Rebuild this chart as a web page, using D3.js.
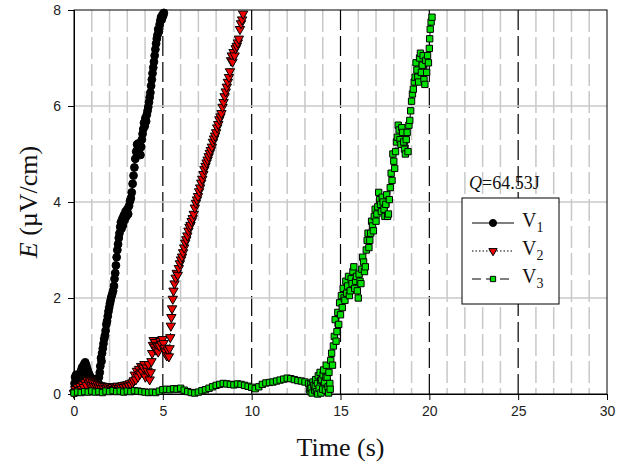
<!DOCTYPE html>
<html>
<head>
<meta charset="utf-8">
<script src="https://cdn.jsdelivr.net/npm/d3@7/dist/d3.min.js"></script>
<style>
  html, body { margin: 0; padding: 0; background: #fff; }
  svg { display: block; }
</style>
</head>
<body>
<svg id="chart" width="625" height="470"></svg>
<script>
// Electric field E (µV/cm) versus time (s) for three voltage channels.
const v1Data = [
  [0.00,0.05],[0.03,0.22],[0.06,0.35],[0.09,0.15],[0.12,0.40],[0.15,0.28],[0.18,0.20],[0.21,0.38],
  [0.24,0.30],[0.27,0.12],[0.30,0.25],[0.33,0.42],[0.36,0.32],[0.39,0.48],[0.42,0.36],[0.45,0.55],
  [0.48,0.40],[0.51,0.58],[0.54,0.45],[0.57,0.62],[0.60,0.50],[0.63,0.66],[0.66,0.55],[0.69,0.60],
  [0.72,0.42],[0.75,0.52],[0.78,0.30],[0.81,0.45],[0.84,0.25],[0.87,0.40],[0.90,0.22],[0.93,0.35],
  [0.96,0.18],[0.99,0.30],[1.02,0.22],[1.05,0.32],[1.08,0.18],[1.12,0.28],[1.16,0.20],[1.20,0.30],
  [1.25,0.22],[1.30,0.28],[1.35,0.24],[1.40,0.35],[1.45,0.45],[1.48,0.58],[1.52,0.75],[1.55,0.68],
  [1.58,0.85],[1.62,0.95],[1.66,1.05],[1.70,1.15],[1.74,1.22],[1.78,1.32],[1.82,1.45],[1.86,1.52],
  [1.90,1.62],[1.94,1.72],[1.98,1.80],[2.02,1.88],[2.06,1.95],[2.10,2.02],[2.15,2.08],[2.20,2.15],
  [2.25,2.25],[2.28,2.40],[2.32,2.52],[2.36,2.68],[2.40,2.85],[2.44,3.00],[2.48,3.12],[2.52,3.25],
  [2.56,3.35],[2.60,3.48],[2.64,3.58],[2.68,3.45],[2.72,3.65],[2.76,3.52],[2.80,3.72],[2.85,3.62],
  [2.90,3.80],[2.95,3.70],[3.00,3.85],[3.05,3.75],[3.10,3.92],[3.15,4.02],[3.20,4.08],[3.25,4.20],
  [3.30,4.38],[3.35,4.55],[3.40,4.72],[3.45,4.90],[3.50,5.05],[3.55,5.20],[3.58,5.10],[3.62,5.22],
  [3.66,5.02],[3.70,5.12],[3.74,4.98],[3.78,5.15],[3.82,5.30],[3.86,5.42],[3.90,5.52],[3.94,5.65],
  [3.98,5.58],[4.02,5.75],[4.06,5.68],[4.10,5.82],[4.14,5.90],[4.18,5.98],[4.22,6.08],[4.26,6.18],
  [4.30,6.28],[4.34,6.42],[4.38,6.55],[4.42,6.68],[4.46,6.80],[4.50,6.92],[4.54,7.05],[4.58,7.18],
  [4.62,7.30],[4.66,7.40],[4.70,7.48],[4.74,7.60],[4.78,7.55],[4.82,7.70],[4.86,7.78],[4.90,7.85],
  [4.94,7.80],[4.98,7.90],[5.02,7.88],[5.06,7.94]
];

const v2Data = [
  [0.00,0.02],[0.07,0.10],[0.14,0.05],[0.21,0.14],[0.28,0.08],[0.35,0.16],[0.42,0.10],[0.49,0.20],
  [0.56,0.14],[0.63,0.24],[0.70,0.18],[0.77,0.28],[0.84,0.22],[0.91,0.26],[0.98,0.18],[1.05,0.24],
  [1.12,0.16],[1.19,0.22],[1.26,0.15],[1.33,0.20],[1.40,0.13],[1.47,0.18],[1.54,0.12],[1.61,0.17],
  [1.68,0.11],[1.75,0.16],[1.82,0.12],[1.89,0.15],[1.96,0.11],[2.03,0.16],[2.10,0.12],[2.17,0.14],
  [2.24,0.10],[2.31,0.15],[2.38,0.13],[2.45,0.17],[2.52,0.12],[2.59,0.16],[2.66,0.13],[2.73,0.18],
  [2.80,0.14],[2.87,0.19],[2.94,0.15],[3.01,0.20],[3.08,0.17],[3.15,0.22],[3.22,0.18],[3.29,0.24],
  [3.36,0.28],[3.42,0.40],[3.48,0.30],[3.54,0.48],[3.60,0.36],[3.66,0.52],[3.72,0.42],[3.78,0.58],
  [3.84,0.46],[3.90,0.55],[3.96,0.62],[4.02,0.36],[4.08,0.55],[4.14,0.48],[4.20,0.62],[4.26,0.30],
  [4.32,0.45],[4.36,0.68],[4.40,0.85],[4.44,1.02],[4.48,1.12],[4.52,0.98],[4.56,1.08],[4.62,0.92],
  [4.68,1.02],[4.74,0.88],[4.80,1.00],[4.86,1.10],[4.92,1.04],[4.98,1.14],[5.04,1.06],[5.10,0.96],
  [5.16,0.88],[5.22,0.80],[5.28,0.92],[5.34,0.78],[5.38,0.95],[5.42,1.18],[5.45,1.42],[5.48,1.60],
  [5.52,1.78],[5.56,1.98],[5.60,2.15],[5.66,2.30],[5.72,2.42],[5.78,2.52],[5.84,2.48],[5.90,2.62],
  [5.96,2.72],[6.02,2.80],[6.08,2.86],[6.14,2.95],[6.20,3.05],[6.26,3.15],[6.32,3.22],[6.38,3.30],
  [6.44,3.40],[6.50,3.48],[6.56,3.52],[6.62,3.60],[6.68,3.66],[6.74,3.75],[6.80,3.88],[6.86,3.98],
  [6.92,4.05],[6.98,4.12],[7.04,4.22],[7.10,4.30],[7.16,4.40],[7.22,4.48],[7.28,4.58],[7.34,4.68],
  [7.40,4.75],[7.46,4.82],[7.52,4.88],[7.58,4.95],[7.64,5.02],[7.70,5.08],[7.76,5.15],[7.82,5.25],
  [7.88,5.32],[7.94,5.38],[8.00,5.45],[8.06,5.55],[8.12,5.62],[8.18,5.72],[8.24,5.78],[8.30,5.85],
  [8.36,5.98],[8.42,6.08],[8.48,6.20],[8.54,6.30],[8.60,6.40],[8.66,6.50],[8.72,6.60],[8.78,6.72],
  [8.84,6.95],[8.88,7.05],[8.92,6.92],[8.98,7.12],[9.04,7.05],[9.10,7.20],[9.16,7.25],[9.22,7.32],
  [9.28,7.40],[9.34,7.60],[9.40,7.72],[9.46,7.80],[9.52,7.92]
];

const v3Data = [
  [0.0,0.02],[0.2,0.04],[0.4,0.03],[0.6,0.05],[0.8,0.04],[1.0,0.06],[1.2,0.04],[1.4,0.05],
  [1.6,0.03],[1.8,0.06],[2.0,0.05],[2.2,0.07],[2.4,0.05],[2.6,0.06],[2.8,0.04],[3.0,0.06],
  [3.2,0.05],[3.4,0.07],[3.6,0.06],[3.8,0.05],[4.0,0.04],[4.2,0.03],[4.4,0.04],[4.6,0.03],
  [4.8,0.06],[5.0,0.09],[5.2,0.10],[5.4,0.09],[5.6,0.11],[5.8,0.10],[6.0,0.12],[6.2,0.08],
  [6.4,0.05],[6.6,0.03],[6.8,0.02],[7.0,0.04],[7.2,0.07],[7.4,0.09],[7.6,0.12],[7.8,0.15],
  [8.0,0.18],[8.2,0.20],[8.4,0.22],[8.6,0.21],[8.8,0.20],[9.0,0.19],[9.2,0.21],[9.4,0.20],
  [9.6,0.18],[9.8,0.16],[10.0,0.14],[10.2,0.11],[10.4,0.15],[10.6,0.20],[10.8,0.23],[11.0,0.24],
  [11.2,0.25],[11.4,0.27],[11.6,0.29],[11.8,0.31],[12.0,0.33],[12.2,0.32],[12.4,0.30],[12.6,0.28],
  [12.8,0.27],[13.0,0.25],[13.2,0.22],[13.25,0.10],[13.30,0.05],[13.33,0.20],[13.35,0.12],[13.40,0.02],
  [13.45,0.25],[13.50,0.18],[13.55,0.08],[13.58,0.15],[13.60,0.30],[13.65,0.05],[13.70,0.22],[13.72,0.00],
  [13.75,0.38],[13.80,0.12],[13.85,0.45],[13.88,0.28],[13.90,0.02],[13.95,0.30],[14.00,0.10],[14.02,0.40],
  [14.05,0.50],[14.10,0.25],[14.15,0.08],[14.18,0.35],[14.20,0.60],[14.25,0.35],[14.30,0.15],[14.33,0.02],
  [14.35,0.45],[14.40,0.22],[14.42,0.10],[14.45,0.70],[14.50,0.85],[14.55,0.60],[14.60,1.00],[14.65,1.20],
  [14.70,1.55],[14.75,1.10],[14.80,1.30],[14.85,1.70],[14.90,1.45],[14.95,1.90],[15.00,1.65],[15.05,2.05],
  [15.10,1.80],[15.15,2.20],[15.20,2.00],[15.25,1.95],[15.30,2.35],[15.35,2.10],[15.40,2.25],[15.45,2.45],
  [15.50,2.05],[15.55,2.15],[15.60,2.40],[15.65,2.30],[15.70,2.55],[15.75,2.65],[15.80,2.20],[15.85,2.35],
  [15.90,2.45],[15.95,2.15],[16.00,2.00],[16.05,2.50],[16.10,2.35],[16.15,2.30],[16.20,2.60],[16.25,2.85],
  [16.30,2.75],[16.35,2.55],[16.40,2.65],[16.45,3.00],[16.50,3.20],[16.55,3.35],[16.60,3.05],[16.65,3.20],
  [16.70,3.35],[16.75,3.60],[16.80,3.50],[16.85,3.40],[16.90,3.70],[16.95,3.85],[17.00,3.60],[17.05,3.75],
  [17.10,3.90],[17.15,4.20],[17.20,4.05],[17.25,3.95],[17.30,3.80],[17.35,4.10],[17.40,4.00],[17.45,3.85],
  [17.50,3.70],[17.55,3.95],[17.60,4.15],[17.65,3.70],[17.70,3.75],[17.75,4.05],[17.80,4.30],[17.85,4.60],
  [17.90,4.45],[17.95,5.00],[18.00,4.85],[18.05,4.70],[18.10,5.05],[18.15,5.25],[18.20,5.35],[18.25,5.60],
  [18.30,5.50],[18.35,5.30],[18.40,5.20],[18.45,5.55],[18.50,5.45],[18.55,5.25],[18.60,5.10],[18.65,5.00],
  [18.70,5.30],[18.75,5.45],[18.80,5.05],[18.85,5.60],[18.90,5.70],[18.95,5.90],[19.00,6.10],[19.05,6.25],
  [19.10,6.35],[19.15,6.50],[19.20,6.60],[19.25,6.90],[19.30,6.75],[19.35,6.60],[19.40,6.50],[19.45,7.00],
  [19.50,7.10],[19.55,6.70],[19.60,6.85],[19.65,7.05],[19.70,6.55],[19.75,6.45],[19.80,6.95],[19.85,6.70],
  [19.90,7.05],[19.95,6.90],[20.00,7.20],[20.02,7.40],[20.05,7.60],[20.10,7.75],[20.15,7.85]
];

const xTicks = [0, 5, 10, 15, 20, 25, 30];
const yTicks = [0, 2, 4, 6, 8];
const seriesNames = ["1", "2", "3"];
const energyLabel = "=64.53J";

const svg = d3.select("#chart");
const x = d3.scaleLinear().domain([0, 30]).range([74, 607]);
const y = d3.scaleLinear().domain([0, 8]).range([394, 10]);

// minor vertical grid every second, major dashed lines every 5 s
const grid = svg.append("g");
d3.range(1, 30).forEach(t => {
  const major = t % 5 === 0;
  grid.append("line")
    .attr("x1", x(t)).attr("x2", x(t))
    .attr("y1", y(8)).attr("y2", y(0))
    .attr("stroke", major ? "#000" : "#c8c8c8")
    .attr("stroke-width", major ? 1.2 : 1.5)
    .attr("stroke-dasharray", major ? "20,6" : "22,5");
});
[2, 4, 6].forEach(v => {
  grid.append("line")
    .attr("x1", x(0)).attr("x2", x(30))
    .attr("y1", y(v)).attr("y2", y(v))
    .attr("stroke", "#c8c8c8").attr("stroke-width", 1.5);
});

// frame
svg.append("rect")
  .attr("x", x(0)).attr("y", y(8))
  .attr("width", x(30) - x(0)).attr("height", y(0) - y(8))
  .attr("fill", "none").attr("stroke", "#000").attr("stroke-width", 1);

// axes
const xAxis = svg.append("g").attr("transform", `translate(0,${y(0)})`)
  .call(d3.axisBottom(x).tickValues(xTicks).tickSize(6).tickPadding(6).tickFormat(d3.format("d")));
const yAxis = svg.append("g").attr("transform", `translate(${x(0)},0)`)
  .call(d3.axisLeft(y).tickValues(yTicks).tickSize(6).tickPadding(7).tickFormat(d3.format("d")));
[xAxis, yAxis].forEach(a => {
  a.select(".domain").attr("stroke", "#000");
  a.selectAll(".tick line").attr("stroke", "#000");
  a.selectAll(".tick text")
    .attr("fill", "#222")
    .style("font-family", "'Liberation Sans', Arial, sans-serif")
    .style("font-size", "14px");
});

// axis titles
svg.append("text")
  .attr("x", (x(0) + x(30)) / 2).attr("y", 456)
  .attr("text-anchor", "middle")
  .style("font-family", "'Liberation Serif', 'Times New Roman', serif")
  .style("font-size", "26px").attr("fill", "#111")
  .text("Time (s)");
const yt = svg.append("text")
  .attr("transform", `translate(37,${(y(0) + y(8)) / 2}) rotate(-90)`)
  .attr("text-anchor", "middle")
  .style("font-family", "'Liberation Serif', 'Times New Roman', serif")
  .style("font-size", "26px").attr("fill", "#111");
yt.append("tspan").style("font-style", "italic").text("E");
yt.append("tspan").text(" (\u00B5V/cm)");

// series: connecting line first, then markers on top
const lineGen = d3.line().x(d => x(d[0])).y(d => y(d[1]));
const series = [
  { data: v1Data, dash: null, symbol: d3.symbolCircle, size: 48, rot: 0, fill: "#000" },
  { data: v2Data, dash: "1.5,2", symbol: d3.symbolTriangle, size: 38, rot: 180, fill: "#ee0000" },
  { data: v3Data, dash: "8,4", symbol: d3.symbolSquare, size: 40, rot: 0, fill: "#00e000" }
];
series.forEach(s => {
  svg.append("path")
    .attr("d", lineGen(s.data))
    .attr("fill", "none").attr("stroke", "#000").attr("stroke-width", 1)
    .attr("stroke-dasharray", s.dash);
  const sym = d3.symbol().type(s.symbol).size(s.size);
  svg.append("g").selectAll("path")
    .data(s.data).join("path")
    .attr("d", sym)
    .attr("transform", d => `translate(${x(d[0])},${y(d[1])}) rotate(${s.rot})`)
    .attr("fill", s.fill).attr("stroke", "#000").attr("stroke-width", 1);
});

// energy annotation
const q = svg.append("text")
  .attr("x", 469).attr("y", 189)
  .style("font-family", "'Liberation Serif', 'Times New Roman', serif")
  .style("font-size", "18px").attr("fill", "#111");
q.append("tspan").style("font-style", "italic").text("Q");
q.append("tspan").text(energyLabel);

// legend
const lg = svg.append("g");
lg.append("rect")
  .attr("x", 462).attr("y", 198).attr("width", 97).attr("height", 106)
  .attr("fill", "#fff").attr("stroke", "#000").attr("stroke-width", 1);
const legendSymbolSize = [40, 30, 28];
series.forEach((s, i) => {
  const cy = 223 + i * 28;
  lg.append("line")
    .attr("x1", 472).attr("x2", 514).attr("y1", cy).attr("y2", cy)
    .attr("stroke", "#000").attr("stroke-width", 1)
    .attr("stroke-dasharray", i === 2 ? "9,5" : s.dash);
  lg.append("path")
    .attr("d", d3.symbol().type(s.symbol).size(legendSymbolSize[i]))
    .attr("transform", `translate(493,${cy}) rotate(${s.rot})`)
    .attr("fill", s.fill).attr("stroke", "#000").attr("stroke-width", 1);
  const t = lg.append("text")
    .attr("x", 522).attr("y", cy + 4)
    .style("font-family", "'Liberation Serif', 'Times New Roman', serif")
    .style("font-size", "20px").attr("fill", "#111");
  t.append("tspan").text("V");
  t.append("tspan").attr("dy", 5).style("font-size", "14px").text(seriesNames[i]);
});
</script>
</body>
</html>
